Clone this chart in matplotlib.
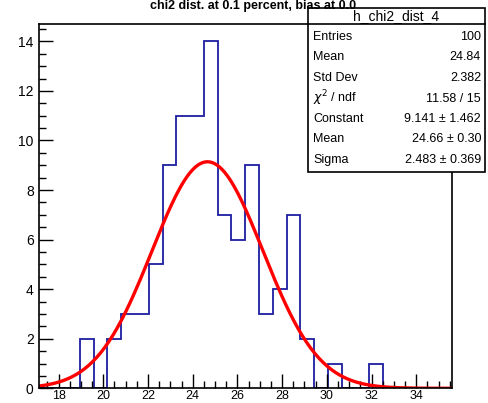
import numpy as np
import matplotlib
matplotlib.use("Agg")
import matplotlib.pyplot as plt
from matplotlib.patches import Rectangle
from matplotlib.ticker import MultipleLocator

# contenido por bin del histograma (30 bins)
x_min, x_max = 17.1, 35.6
counts = [0, 0, 0, 2, 0, 2, 3, 3, 5, 9, 11, 11, 14, 7, 6,
          9, 3, 4, 7, 2, 0, 1, 0, 0, 1, 0, 0, 0, 0, 0]

# parámetros del ajuste gaussiano
fit_const, fit_mean, fit_sigma = 9.141, 24.66, 2.483

stat_names = ["Entries", "Mean", "Std Dev", r"$\chi^{2}$ / ndf", "Constant", "Mean", "Sigma"]
stat_values = ["100", "24.84", "2.382", "11.58 / 15", "9.141 \u00b1 1.462",
               "24.66 \u00b1 0.30", "2.483 \u00b1 0.369"]

plt.rcParams['font.family'] = ['Liberation Sans', 'DejaVu Sans']

W, H = 488, 403
fig = plt.figure(figsize=(W / 100, H / 100), dpi=100)

def fx(px):
    return px / W

def fy(py):
    return 1 - py / H

ax = fig.add_axes([fx(38.5), fy(388.3), fx(452 - 38.5), (388.3 - 24) / H])

edges = np.linspace(x_min, x_max, len(counts) + 1)
ax.stairs(counts, edges, color='#1c1ca0', linewidth=1.3)

xs = np.linspace(x_min, x_max, 200)
ax.plot(xs, fit_const * np.exp(-0.5 * ((xs - fit_mean) / fit_sigma) ** 2),
        color='#ff0000', linewidth=2.4)

ax.set_xlim(x_min, x_max)
ax.set_ylim(0, 14.7)
ax.xaxis.set_major_locator(MultipleLocator(2))
ax.xaxis.set_minor_locator(MultipleLocator(0.5))
ax.yaxis.set_major_locator(MultipleLocator(2))
ax.yaxis.set_minor_locator(MultipleLocator(0.5))
ax.tick_params(which='both', direction='in', top=False, right=False, labelsize=10)
ax.tick_params(which='major', length=10, width=1)
ax.tick_params(which='minor', length=5, width=1)
ax.tick_params(axis='x', pad=1.5, labelsize=9)
for s in ax.spines.values():
    s.set_linewidth(1.2)

# título
fig.text(fx(253), fy(0.5), "chi2 dist. at 0.1 percent, bias at 0.0", ha='center', va='top',
         fontsize=9, fontweight='bold', zorder=8)

# caja de estadísticas
bx0, bx1, by0, by1 = 308, 485, 8, 172
fig.patches.append(Rectangle((fx(bx0), fy(by1)), fx(bx1 - bx0), (by1 - by0) / H,
                             transform=fig.transFigure, facecolor='white',
                             edgecolor='black', linewidth=1.2, zorder=5))
fig.add_artist(plt.Line2D([fx(bx0), fx(bx1)], [fy(24), fy(24)],
                          transform=fig.transFigure, color='black', linewidth=1.2, zorder=6))
fig.text(fx((bx0 + bx1) / 2), fy(16), "h_chi2_dist_4", ha='center', va='center',
         fontsize=10, zorder=7)
rows_y = np.linspace(37, 160, len(stat_names))
for name, val, y in zip(stat_names, stat_values, rows_y):
    fig.text(fx(313), fy(y), name, ha='left', va='center', fontsize=9, zorder=7)
    fig.text(fx(481), fy(y), val, ha='right', va='center', fontsize=9, zorder=7)

fig.savefig("out.png", dpi=100)
